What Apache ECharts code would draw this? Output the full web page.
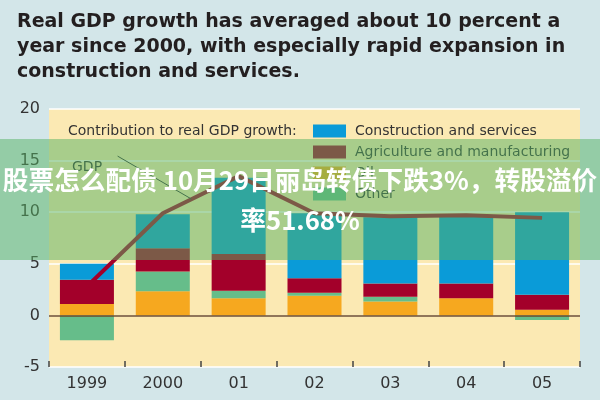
<!DOCTYPE html>
<html><head><meta charset="utf-8">
<script src="https://cdn.jsdelivr.net/npm/echarts@6/dist/echarts.min.js"></script>
<style>html,body{margin:0;padding:0;background:#d3e6e9}#c{width:600px;height:400px}</style>
</head><body><div id="c"></div>
<script>
const categories = ['1999', '2000', '01', '02', '03', '04', '05'];
const oil = [1.1, 2.35, 1.65, 1.9, 1.35, 1.65, 0.55];
const other = [-2.4, 1.9, 0.75, 0.3, 0.45, 0, -0.45];
const agriculture = [2.35, 2.25, 3.55, 1.4, 1.3, 1.45, 1.45];
const construction = [1.55, 3.3, 7.4, 6.3, 6.4, 6.5, 8.0];
const gdp = [2.8, 9.9, 13.5, 9.9, 9.6, 9.7, 9.45];
const yMin = -5, yMax = 20, yStep = 5;
const titleText = 'Real GDP growth has averaged about 10 percent a\nyear since 2000, with especially rapid expansion in\nconstruction and services.';
const legendHeader = 'Contribution to real GDP growth:';
const overlayLine1 = '股票怎么配债 10月29日丽岛转债下跌3%，转股溢价';
const overlayLine2 = '率51.68%';

const C = {
  blue: '#0a9bd8', red: '#a3002a', orange: '#f6a81f', green: '#66bd8a',
  cream: '#fbe9b3', text: '#333333'
};
const FONT = 'DejaVu Sans';

const chart = echarts.init(document.getElementById('c'), null, {renderer: 'canvas'});
const barCommon = {type: 'bar', stack: 'total', barWidth: 54, silent: true};
chart.setOption({
  animation: false,
  backgroundColor: '#d3e6e9',
  title: {
    text: titleText, left: 17, top: 10, padding: 0,
    textStyle: {fontFamily: FONT, fontSize: 19, fontWeight: 'bold', color: '#231f20', lineHeight: 25}
  },
  grid: {left: 49, right: 20, top: 109, bottom: 33, show: true, backgroundColor: C.cream, borderWidth: 0},
  legend: {
    orient: 'vertical', left: 313, top: 124, padding: 0,
    itemWidth: 33, itemHeight: 13, itemGap: 7, icon: 'rect',
    data: ['Construction and services', 'Agriculture and manufacturing', 'Oil', 'Other'],
    textStyle: {fontFamily: FONT, fontSize: 14, color: C.text, padding: [0, 0, 0, 4]},
    selectedMode: false
  },
  xAxis: {
    type: 'category', data: categories, boundaryGap: true,
    axisLine: {show: false, onZero: false},
    axisTick: {show: true, inside: true, length: 6, alignWithLabel: false, lineStyle: {color: '#444', width: 1.5}},
    axisLabel: {fontFamily: FONT, fontSize: 16, color: C.text, margin: 9},
    splitLine: {show: false}
  },
  yAxis: {
    type: 'value', min: yMin, max: yMax, interval: yStep,
    axisLine: {show: false}, axisTick: {show: false},
    axisLabel: {fontFamily: FONT, fontSize: 16, color: C.text, margin: 9},
    splitLine: {show: true, lineStyle: {color: '#ffffff', width: 1.5}}
  },
  series: [
    Object.assign({name: 'Oil', data: oil, itemStyle: {color: C.orange}}, barCommon),
    Object.assign({name: 'Other', data: other, itemStyle: {color: C.green}}, barCommon),
    Object.assign({name: 'Agriculture and manufacturing', data: agriculture, itemStyle: {color: C.red}}, barCommon),
    Object.assign({name: 'Construction and services', data: construction, itemStyle: {color: C.blue}}, barCommon),
    {
      name: 'GDP', type: 'line', data: gdp, showSymbol: false, symbol: 'none', silent: true,
      lineStyle: {color: C.red, width: 4}, z: 5,
      markLine: {
        silent: true, symbol: 'none', label: {show: false},
        lineStyle: {color: '#6b4a2a', width: 1.5, type: 'solid'},
        data: [{yAxis: 0}]
      }
    }
  ]
});

// annotation positions derived from the data through the chart's own scales
const p0 = chart.convertToPixel({seriesIndex: 4}, [1, gdp[1]]);
const p1 = chart.convertToPixel({seriesIndex: 4}, [2, gdp[2]]);
const t = 0.38;
const end = [p0[0] + (p1[0] - p0[0]) * t, p0[1] + (p1[1] - p0[1]) * t];

chart.setOption({
  graphic: [
    {type: 'text', x: 68, y: 131, z: 50, silent: true,
     style: {text: legendHeader, font: '14px "' + FONT + '"', fill: C.text, align: 'left', verticalAlign: 'middle'}},
    {type: 'text', x: 72, y: 167, z: 50, silent: true,
     style: {text: 'GDP', font: '14px "' + FONT + '"', fill: C.text, align: 'left', verticalAlign: 'middle'}},
    {type: 'line', z: 50, silent: true,
     shape: {x1: end[0] - 74, y1: end[1] - 43, x2: end[0], y2: end[1]},
     style: {stroke: '#333', lineWidth: 1}},
    {type: 'rect', z: 100, silent: true,
     shape: {x: 0, y: 139, width: 600, height: 121},
     style: {fill: 'rgba(85,178,100,0.5)'}},
    {type: 'text', x: 300, y: 180, z: 101, silent: true,
     style: {text: overlayLine1, font: 'bold 25.7px "Noto Sans CJK SC"', fill: '#ffffff', align: 'center', verticalAlign: 'middle'}},
    {type: 'text', x: 300, y: 220, z: 101, silent: true,
     style: {text: overlayLine2, font: 'bold 25.7px "Noto Sans CJK SC"', fill: '#ffffff', align: 'center', verticalAlign: 'middle'}}
  ]
});
</script></body></html>
